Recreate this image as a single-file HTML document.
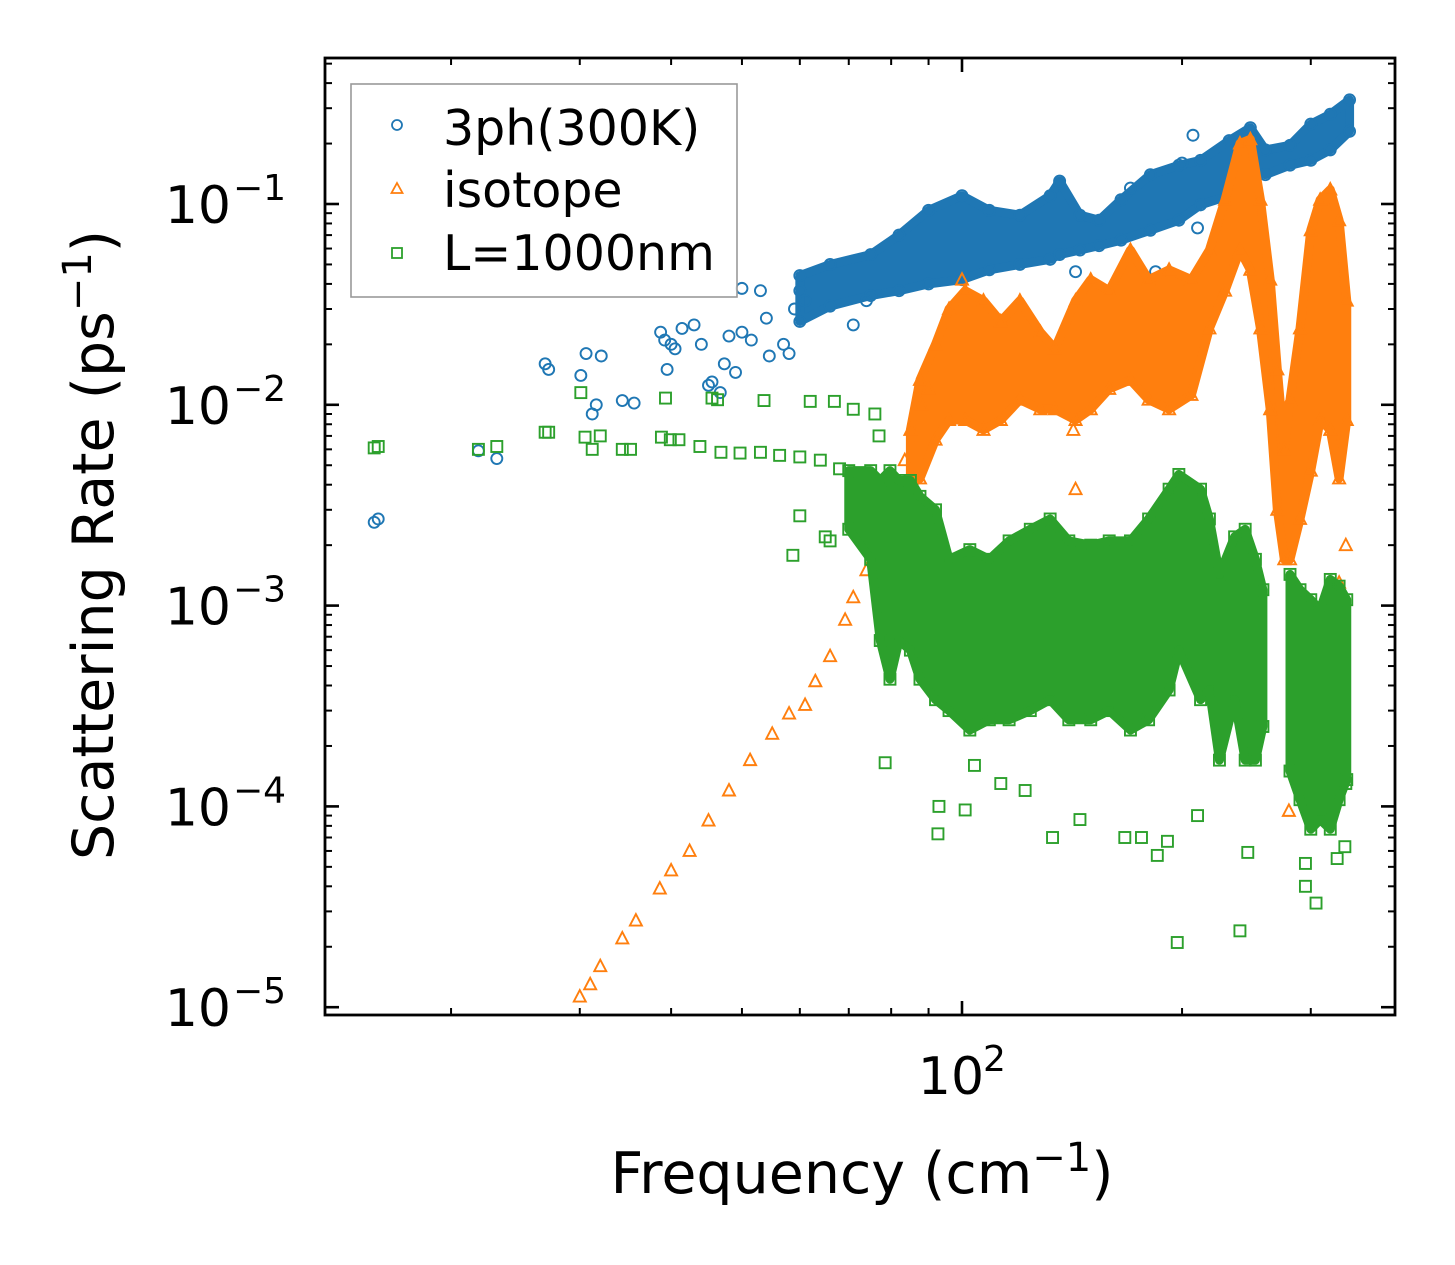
<!DOCTYPE html>
<html><head><meta charset="utf-8"><style>
html,body{margin:0;padding:0;background:#fff}
svg{display:block;font-family:"DejaVu Sans","Liberation Sans",sans-serif}
</style></head><body>
<svg id="chart" width="1455" height="1265" viewBox="0 0 1455 1265" xmlns="http://www.w3.org/2000/svg">
<rect x="0" y="0" width="1455" height="1265" fill="#fff"/>
<g id="plot"></g>
<g id="axes"></g>
<g>
<rect x="351" y="84" width="386" height="213" fill="#fff" fill-opacity="0.8" stroke="#999" stroke-width="1.6"/>
<circle cx="397" cy="125" r="5" fill="none" stroke="#1f77b4" stroke-width="1.8"/>
<text x="443" y="145" font-size="49">3ph(300K)</text>
<path d="M397,183 L402.5,193 L391.5,193 Z" fill="none" stroke="#ff7f0e" stroke-width="1.8"/>
<text x="443" y="207" font-size="49">isotope</text>
<rect x="392" y="248" width="10" height="10" fill="none" stroke="#2ca02c" stroke-width="1.8"/>
<text x="443" y="270" font-size="49">L=1000nm</text>
</g>
<text x="862" y="1193" font-size="57" text-anchor="middle">Frequency (cm<tspan dy="-22" font-size="40">−1</tspan><tspan dy="22">)</tspan></text>
<text transform="translate(113,545) rotate(-90)" font-size="57" text-anchor="middle">Scattering Rate (ps<tspan dy="-22" font-size="40">−1</tspan><tspan dy="22">)</tspan></text>
</svg>
<script>
// ---- data ----
const blueFreq = [15.7,15.9,21.8,23.1,26.9,27.2,30.1,30.6,31.2,31.6,32.1,34.3,35.6,38.7,39.2,39.5,40,40.5,41.4,43,44,45,45.5,46.7,47.3,49,48,50,51.5,50,53,54,54.5,57,58,59,60,61,71,74,143,170,184,210,207,200,170,136];
const blueRate = [2.6e-3,2.7e-3,5.9e-3,5.4e-3,1.6e-2,1.5e-2,1.4e-2,1.8e-2,9e-3,1e-2,1.75e-2,1.05e-2,1.02e-2,2.3e-2,2.1e-2,1.5e-2,2e-2,1.9e-2,2.4e-2,2.5e-2,2e-2,1.25e-2,1.3e-2,1.15e-2,1.6e-2,1.45e-2,2.2e-2,2.3e-2,2.1e-2,3.8e-2,3.7e-2,2.7e-2,1.75e-2,2e-2,1.8e-2,3e-2,3.7e-2,3.3e-2,2.5e-2,3.3e-2,4.6e-2,4.9e-2,4.6e-2,7.6e-2,2.2e-1,1.6e-1,1.2e-1,1.27e-1];
const blueBandFreq = [60,66,75,82,90,100,109,120,132,136,145,154,165,181,198,212,232,248,260,281,300,319,339];
const blueBandHi = [4.4e-2,5e-2,5.6e-2,7e-2,9.3e-2,1.1e-1,9.3e-2,8.8e-2,1.1e-1,1.3e-1,8.8e-2,8.3e-2,1.05e-1,1.4e-1,1.56e-1,1.65e-1,2.07e-1,2.4e-1,1.86e-1,1.96e-1,2.5e-1,2.8e-1,3.3e-1];
const blueBandLo = [2.6e-2,3.1e-2,3.5e-2,3.7e-2,4e-2,4.2e-2,4.7e-2,5e-2,5.3e-2,5.6e-2,5.9e-2,6.2e-2,6.6e-2,7.4e-2,8.3e-2,9.9e-2,1.1e-1,1.48e-1,1.4e-1,1.56e-1,1.65e-1,1.86e-1,2.3e-1];

const isoFreq = [30,31,32,34.3,35.8,38.6,40,42.4,45,48,51.3,55,58,61,63,66,69.2,71,74,76,78.5,81,83.5,100,142,143,335,328,280,88,90];
const isoRate = [1.13e-5,1.3e-5,1.6e-5,2.2e-5,2.7e-5,3.9e-5,4.8e-5,6e-5,8.5e-5,1.2e-4,1.7e-4,2.3e-4,2.9e-4,3.2e-4,4.2e-4,5.6e-4,8.5e-4,1.1e-3,1.5e-3,2e-3,2.6e-3,3.7e-3,5.3e-3,4.2e-2,7.5e-3,3.8e-3,2e-3,1.3e-3,9.5e-5,1e-2,1.2e-2];
const isoBandFreq = [85,87.6,92,96,101,107,113,120,128,134,143,150,159,170,180,192,206,218,229,240,248,256,264,270,276,281,290,300,309,319,328,336];
const isoBandHi = [7.5e-3,1.33e-2,2e-2,3e-2,3.7e-2,3.3e-2,2.6e-2,3.3e-2,2.3e-2,1.9e-2,3.3e-2,4.2e-2,3.7e-2,5.9e-2,4.2e-2,4.7e-2,4.2e-2,5.9e-2,1.05e-1,2e-1,2.1e-1,1.05e-1,4.2e-2,1.5e-2,6e-3,1.06e-2,2.4e-2,7.4e-2,1.05e-1,1.18e-1,8.3e-2,3.3e-2];
const isoBandLo = [4e-3,4.3e-3,6.7e-3,8.4e-3,8.4e-3,7.5e-3,8.4e-3,1.06e-2,9.5e-3,9.5e-3,8.4e-3,9.5e-3,1.2e-2,1.33e-2,1.06e-2,9.5e-3,1.12e-2,2.4e-2,3.7e-2,5.9e-2,4.7e-2,2.4e-2,9.5e-3,3e-3,1.7e-3,1.7e-3,2.7e-3,4.7e-3,8.4e-3,7.5e-3,4.3e-3,8.4e-3];

const bdFreq = [15.7,15.9,21.8,23.1,26.9,27.2,30.1,30.5,31.2,32,34.3,35.2,39.3,38.8,39.9,45.5,46.3,53.6,62,66.9,41,43.8,46.8,49.7,53,56.3,60,64,68,58.7,60,65,66,78.5,71,76,77,92.7,93,101,104,113,122,133,145,167,176,185,191,197,210,240,246,295,295,305,326,334,335];
const bdRate = [6.1e-3,6.2e-3,6e-3,6.2e-3,7.3e-3,7.3e-3,1.15e-2,6.9e-3,6e-3,7e-3,6e-3,6e-3,1.08e-2,6.9e-3,6.7e-3,1.08e-2,1.06e-2,1.05e-2,1.04e-2,1.04e-2,6.7e-3,6.2e-3,5.8e-3,5.75e-3,5.8e-3,5.6e-3,5.5e-3,5.3e-3,4.8e-3,1.78e-3,2.8e-3,2.2e-3,2.1e-3,1.65e-4,9.5e-3,9e-3,7e-3,7.3e-5,1e-4,9.6e-5,1.6e-4,1.3e-4,1.2e-4,7e-5,8.6e-5,7e-5,7e-5,5.7e-5,6.7e-5,2.1e-5,9e-5,2.4e-5,5.9e-5,4e-5,5.2e-5,3.3e-5,5.5e-5,6.3e-5,1.3e-4];
const bdBandFreq = [70,75,77.3,79.7,82,85,87.6,92,96,102.5,109,116,124,132,140,150,159,170,180,192,198,212,218,225,236,244,252,258];
const bdBandHi = [4.7e-3,4.7e-3,4.2e-3,4.7e-3,4.2e-3,4.2e-3,3.5e-3,3e-3,1.7e-3,1.9e-3,1.7e-3,2.1e-3,2.4e-3,2.7e-3,2.1e-3,2e-3,2.1e-3,2.1e-3,2.7e-3,3.8e-3,4.5e-3,3.8e-3,2.7e-3,1.43e-3,2.2e-3,2.4e-3,1.7e-3,1.2e-3];
const bdBandLo = [2.4e-3,1.7e-3,6.7e-4,4.3e-4,6.7e-4,6e-4,4.3e-4,3.4e-4,3e-4,2.4e-4,2.7e-4,2.7e-4,3e-4,3.4e-4,2.7e-4,2.7e-4,3e-4,2.4e-4,2.7e-4,3.8e-4,6e-4,3.4e-4,3.8e-4,1.7e-4,3.4e-4,1.7e-4,1.7e-4,2.5e-4];
const bdBand2Freq = [281,290,300,309,319,328,336];
const bdBand2Hi = [1.43e-3,1.2e-3,1.07e-3,9.5e-4,1.35e-3,1.25e-3,1.07e-3];
const bdBand2Lo = [1.5e-4,1.08e-4,7.7e-5,8.6e-5,7.7e-5,1.08e-4,1.36e-4];

const yTickValues = [1e-5,1e-4,1e-3,1e-2,1e-1];
const yTickExps = ["−5","−4","−3","−2","−1"];
const xTickValues = [100];
const xTickExps = ["2"];
const xMinorValues = [20,30,40,50,60,70,80,90,200,300];

// ---- scales ----
const X0=325,X1=1395,Y0=58,Y1=1015;
function sx(f){return 962+731*Math.log10(f/100);}
function sy(r){return 204-200.8*(Math.log10(r)+1);}
const NS="http://www.w3.org/2000/svg";
const plot=document.getElementById('plot');
const axes=document.getElementById('axes');
function mk(tag,attrs,parent){const e=document.createElementNS(NS,tag);for(const k in attrs)e.setAttribute(k,attrs[k]);parent.appendChild(e);return e;}

const clip=mk('clipPath',{id:'clipA'},plot);
mk('rect',{x:X0,y:Y0,width:X1-X0,height:Y1-Y0},clip);
const area=mk('g',{'clip-path':'url(#clipA)'},plot);

function marker(kind,color,f,r,parent,name){
  const x=sx(f),y=sy(r);let e;
  if(kind==='c') e=mk('circle',{cx:x,cy:y,r:5.5,fill:'none',stroke:color,'stroke-width':1.9},parent);
  else if(kind==='t') e=mk('path',{d:`M${x},${y-6.5} L${x+6},${y+5} L${x-6},${y+5} Z`,fill:'none',stroke:color,'stroke-width':1.9},parent);
  else e=mk('rect',{x:x-5.5,y:y-5.5,width:11,height:11,fill:'none',stroke:color,'stroke-width':1.9},parent);
  
  
}
function band(freq,hi,lo,color,kind,parent,name){
  let d='M'+freq.map((f,i)=>sx(f)+','+sy(hi[i])).join(' L');
  for(let i=freq.length-1;i>=0;i--) d+=' L'+sx(freq[i])+','+sy(lo[i]);
  d+=' Z';
  const p=mk('path',{d:d,fill:color,stroke:color,'stroke-width':9,'stroke-linejoin':'round'},parent);
  
  
  freq.forEach((f,i)=>{marker(kind,color,f,hi[i],parent,name+'-edge-point');marker(kind,color,f,lo[i],parent,name+'-edge-point');});
}
const gB=mk('g',{},area);


band(blueBandFreq,blueBandHi,blueBandLo,'#1f77b4','c',gB,'3ph-dense-band');
blueFreq.forEach((f,i)=>marker('c','#1f77b4',f,blueRate[i],gB,'3ph-point'));
const gO=mk('g',{},area);


band(isoBandFreq,isoBandHi,isoBandLo,'#ff7f0e','t',gO,'isotope-dense-band');
isoFreq.forEach((f,i)=>marker('t','#ff7f0e',f,isoRate[i],gO,'isotope-point'));
const gG=mk('g',{},area);


band(bdBandFreq,bdBandHi,bdBandLo,'#2ca02c','s',gG,'boundary-dense-band');
band(bdBand2Freq,bdBand2Hi,bdBand2Lo,'#2ca02c','s',gG,'boundary-dense-band-2');
bdFreq.forEach((f,i)=>marker('s','#2ca02c',f,bdRate[i],gG,'boundary-point'));

// ---- axes ----
const frame=mk('rect',{x:X0,y:Y0,width:X1-X0,height:Y1-Y0,fill:'none',stroke:'#000','stroke-width':2.8},axes);


yTickValues.forEach((v,i)=>{
  const y=sy(v);
  mk('line',{x1:X0,x2:X0+14,y1:y,y2:y,stroke:'#000','stroke-width':2.6},axes);
  mk('line',{x1:X1,x2:X1-14,y1:y,y2:y,stroke:'#000','stroke-width':2.6},axes);
  const t=mk('text',{x:231,y:y+19,'font-size':52,'text-anchor':'end'},axes);
  t.textContent='10';
  
  
  const s=mk('text',{x:233,y:y-4,'font-size':36},axes);
  s.textContent=yTickExps[i];
  
  
});
for(let d=-6;d<=0;d++){for(let m=2;m<=9;m++){const v=m*Math.pow(10,d);const y=sy(v);if(y<Y0||y>Y1)continue;
  mk('line',{x1:X0,x2:X0+7,y1:y,y2:y,stroke:'#000','stroke-width':2},axes);
  mk('line',{x1:X1,x2:X1-7,y1:y,y2:y,stroke:'#000','stroke-width':2},axes);}}
xTickValues.forEach((v,i)=>{
  const x=sx(v);
  mk('line',{x1:x,x2:x,y1:Y1,y2:Y1-14,stroke:'#000','stroke-width':2.6},axes);
  mk('line',{x1:x,x2:x,y1:Y0,y2:Y0+14,stroke:'#000','stroke-width':2.6},axes);
  const t=mk('text',{x:x-11,y:1094,'font-size':52,'text-anchor':'middle'},axes);
  t.textContent='10';
  
  
  const s=mk('text',{x:x+21,y:1071,'font-size':36},axes);
  s.textContent=xTickExps[i];
  
  
});
xMinorValues.forEach(v=>{const x=sx(v);
  mk('line',{x1:x,x2:x,y1:Y1,y2:Y1-7,stroke:'#000','stroke-width':2},axes);
  mk('line',{x1:x,x2:x,y1:Y0,y2:Y0+7,stroke:'#000','stroke-width':2},axes);});
</script>
</body></html>
